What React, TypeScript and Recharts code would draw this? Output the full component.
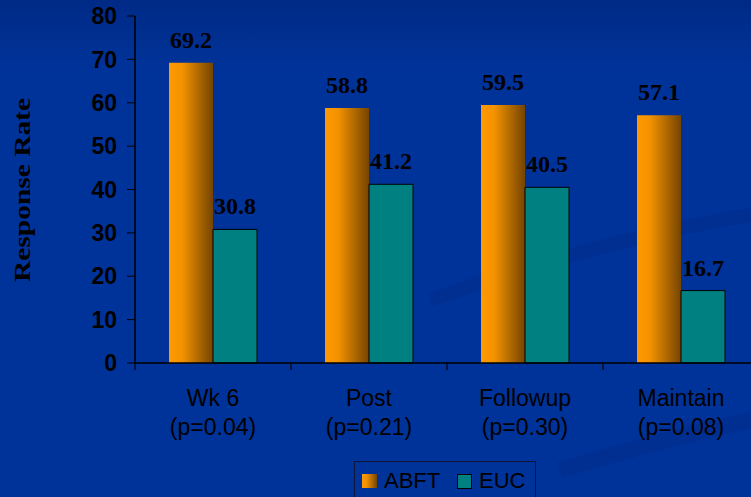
import React from 'react';
import { BarChart, Bar, XAxis, YAxis, LabelList, Legend } from 'recharts';

const categories = ['Wk 6', 'Post', 'Followup', 'Maintain'];
const pValues = ['(p=0.04)', '(p=0.21)', '(p=0.30)', '(p=0.08)'];
const abft = [69.2, 58.8, 59.5, 57.1];
const euc = [30.8, 41.2, 40.5, 16.7];
const yTicks = [0, 10, 20, 30, 40, 50, 60, 70, 80];

const data = categories.map((c, i) => ({ name: c, p: pValues[i], ABFT: abft[i], EUC: euc[i] }));

const SANS = 'Arial, "Liberation Sans", sans-serif';
const SERIF = '"Times New Roman", "Liberation Serif", serif';

const CategoryTick = (props: any) => {
  const { x, y, payload, index } = props;
  const p = pValues[index] ?? data.find((d) => d.name === payload.value)?.p;
  const half = payload && typeof payload.offset === 'number' ? payload.offset : 0;
  const isLast = index === categories.length - 1;
  return (
    <g>
      <line x1={x - half} x2={x - half} y1={y} y2={y + 7} stroke="#000" strokeWidth={1.2} />
      {isLast && <line x1={x + half} x2={x + half} y1={y} y2={y + 7} stroke="#000" strokeWidth={1.2} />}
      <text x={x} y={y + 43} textAnchor="middle" fontFamily={SANS} fontSize={23} fill="#000">
        {payload.value}
      </text>
      <text x={x} y={y + 72} textAnchor="middle" fontFamily={SANS} fontSize={23} fill="#000">
        {p}
      </text>
    </g>
  );
};

const YTitle = () => (
  <text
    x={29.5}
    y={190}
    transform="rotate(-90, 29.5, 190)"
    textAnchor="middle"
    fontFamily={SERIF}
    fontWeight="bold"
    fontSize={24}
    textLength={184}
    lengthAdjust="spacingAndGlyphs"
    fill="#000"
  >
    Response Rate
  </text>
);

const LegendBox = () => (
  <div style={{ width: 182, height: 45, border: '1px solid #0b1636', boxSizing: 'border-box' }}>
    <svg width={182} height={45} style={{ display: 'block' }}>
      <defs>
        <linearGradient id="legOrange" x1="0" y1="0" x2="1" y2="0">
          <stop offset="0" stopColor="#FF9900" />
          <stop offset="0.3" stopColor="#F39200" />
          <stop offset="1" stopColor="#754400" />
        </linearGradient>
      </defs>
      <rect x={7} y={12} width={15} height={14} fill="url(#legOrange)" />
      <text x={29} y={26} fontFamily={SANS} fontSize={22} fill="#000">ABFT</text>
      <rect x={102.5} y={12.5} width={14} height={14} fill="#008080" stroke="#000" strokeWidth={1} />
      <text x={124} y={26} fontFamily={SANS} fontSize={22} fill="#000">EUC</text>
    </svg>
  </div>
);

export default function App() {
  return (
    <div
      style={{
        position: 'fixed',
        left: 0,
        top: 0,
        width: 751,
        height: 497,
        overflow: 'hidden',
        background: 'linear-gradient(to bottom, #002a86 0px, #003399 70px, #003399 100%)',
      }}
    >
      <svg width={751} height={497} style={{ position: 'absolute', left: 0, top: 0 }}>
        <path d="M 430 300 Q 600 240 751 215" stroke="rgba(0,20,90,0.12)" strokeWidth={14} fill="none" />
        <path d="M 560 470 Q 660 440 751 420" stroke="rgba(0,20,90,0.12)" strokeWidth={16} fill="none" />
      </svg>
      <div style={{ position: 'absolute', left: 0, top: 0 }}>
        <BarChart
          width={770}
          height={497}
          data={data}
          margin={{ top: 16, right: 11, left: 0, bottom: 0 }}
          barCategoryGap={34}
          barGap={0}
        >
          <defs>
            <linearGradient id="barOrange" x1="0" y1="0" x2="1" y2="0">
              <stop offset="0" stopColor="#FF9900" />
              <stop offset="0.3" stopColor="#F39200" />
              <stop offset="1" stopColor="#754400" />
            </linearGradient>
          </defs>
          <XAxis
            dataKey="name"
            height={134}
            axisLine={{ stroke: '#000', strokeWidth: 1.5 }}
            tickLine={false}
            tickSize={0}
            tickMargin={0}
            interval={0}
            tick={<CategoryTick />}
          />
          <YAxis
            width={135}
            domain={[0, 80]}
            ticks={yTicks}
            interval={0}
            axisLine={{ stroke: '#000', strokeWidth: 1.5 }}
            tickLine={{ stroke: '#000', strokeWidth: 1 }}
            tickSize={8}
            tickMargin={10}
            tick={{ fill: '#000', fontFamily: SANS, fontWeight: 'bold', fontSize: 23 }}
            label={<YTitle />}
          />
          <Legend
            layout="horizontal"
            verticalAlign="middle"
            align="center"
            wrapperStyle={{ left: 354, top: 461, width: 184, height: 45 }}
            content={() => <LegendBox />}
          />
          <Bar dataKey="ABFT" fill="url(#barOrange)" isAnimationActive={false}>
            <LabelList
              dataKey="ABFT"
              position="top"
              offset={15}
              formatter={(v: any) => Number(v).toFixed(1)}
              style={{ fill: '#000', fontFamily: SERIF, fontWeight: 'bold', fontSize: 24 }}
            />
          </Bar>
          <Bar dataKey="EUC" fill="#008080" stroke="#000" strokeWidth={1} isAnimationActive={false}>
            <LabelList
              dataKey="EUC"
              position="top"
              offset={15}
              formatter={(v: any) => Number(v).toFixed(1)}
              style={{ fill: '#000', fontFamily: SERIF, fontWeight: 'bold', fontSize: 24 }}
            />
          </Bar>
        </BarChart>
      </div>
    </div>
  );
}
